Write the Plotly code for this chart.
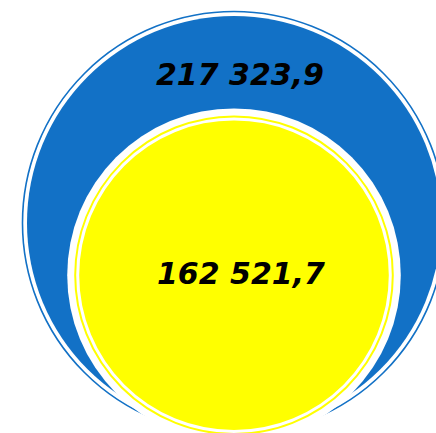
import plotly.graph_objects as go

# Two nested bubbles, radius proportional to value, sharing a common baseline
labels = ["Всего", "В том числе"]
values = [217323.9, 162521.7]
fill_colors = ["#1271C6", "#FFFF00"]

W, H = 436, 433
big = max(values)
units_per_px = big / 207.0          # the larger bubble is 207 px in radius
cx_px, base_px = 234, 430           # bubble centre x and shared baseline (px from top-left)

x_range = [-cx_px * units_per_px, (W - cx_px) * units_per_px]
y_range = [-(H - base_px) * units_per_px, base_px * units_per_px]


def fmt(v):
    return f"{v:,.1f}".replace(",", " ").replace(".", ",")


def circle(r, cy, **kw):
    return dict(type="circle", xref="x", yref="y",
                x0=-r, x1=r, y0=cy - r, y1=cy + r, layer="above", **kw)


shapes = []
p = units_per_px
# outer bubble: thin outline ring plus solid fill
r0 = values[0]
shapes.append(circle(r0 + 4.5 * p, r0, line=dict(color=fill_colors[0], width=1.6)))
shapes.append(circle(r0 + 2.5 * p, r0, line=dict(color="white", width=1.2)))
shapes.append(circle(r0, r0, fillcolor=fill_colors[0], line=dict(width=0)))
# inner bubble: white halo, thin outline ring, solid fill
r1 = values[1]
shapes.append(circle(r1 + 12 * p, r1, fillcolor="white", line=dict(width=0)))
shapes.append(circle(r1 + 4 * p, r1, line=dict(color=fill_colors[1], width=2)))
shapes.append(circle(r1, r1, fillcolor=fill_colors[1], line=dict(width=0)))

fig = go.Figure()
# invisible anchor trace so both axes are initialised
fig.add_trace(go.Scatter(x=[0, 0], y=[values[0], values[1]], mode="markers",
                         marker=dict(opacity=0), hoverinfo="skip",
                         showlegend=False, name=labels[0]))

font = dict(family="DejaVu Sans, Liberation Sans, sans-serif", size=30,
            color="black", weight="bold", style="italic")
annotations = [
    dict(x=6 * p, y=(base_px - 74) * p, xref="x", yref="y", text=fmt(values[0]),
         showarrow=False, font=font, xanchor="center", yanchor="middle"),
    dict(x=7 * p, y=(base_px - 273) * p, xref="x", yref="y", text=fmt(values[1]),
         showarrow=False, font=font, xanchor="center", yanchor="middle"),
]

fig.update_layout(
    width=W, height=H,
    margin=dict(l=0, r=0, t=0, b=0),
    paper_bgcolor="white", plot_bgcolor="white",
    xaxis=dict(range=x_range, visible=False, fixedrange=True),
    yaxis=dict(range=y_range, visible=False, fixedrange=True),
    shapes=shapes, annotations=annotations, showlegend=False,
)

fig.write_html("out.html")
